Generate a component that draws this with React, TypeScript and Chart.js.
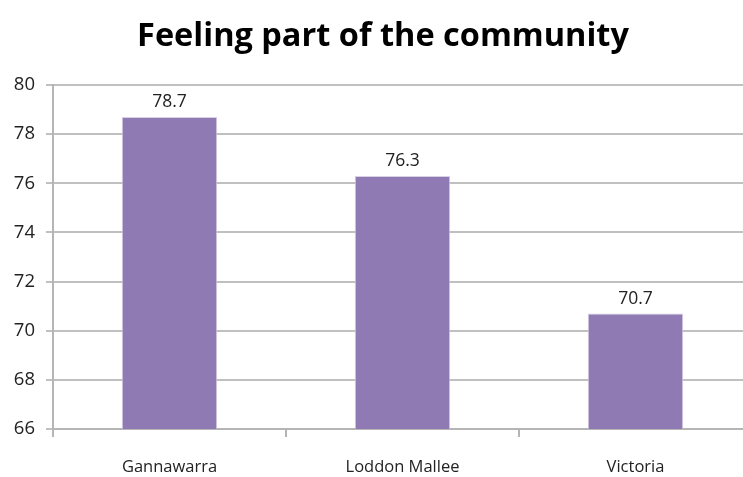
import React, { useEffect, useRef } from "react";
import { Chart, registerables } from "chart.js";

Chart.register(...registerables);

const categories = ["Gannawarra", "Loddon Mallee", "Victoria"];
const values = [78.7, 76.3, 70.7];
const yMin = 66;
const yMax = 80;
const yStep = 2;
const titleText = "Feeling part of the community";

const CANVAS_W = 760;
const CANVAS_H = 477;

export default function App() {
  const ref = useRef<HTMLCanvasElement | null>(null);

  useEffect(() => {
    if (!ref.current) return;
    const valueLabels = {
      id: "valueLabels",
      afterDatasetsDraw(chart: any) {
        const ctx = chart.ctx;
        const meta = chart.getDatasetMeta(0);
        ctx.save();
        ctx.font = "17.5px 'Open Sans', sans-serif";
        ctx.fillStyle = "#222";
        ctx.textAlign = "center";
        ctx.textBaseline = "bottom";
        meta.data.forEach((el: any, i: number) => {
          ctx.fillText(values[i].toFixed(1), el.x, el.y - 6);
        });
        ctx.restore();
      },
    };
    const titlePlugin = {
      id: "customTitle",
      afterDraw(chart: any) {
        const ctx = chart.ctx;
        ctx.save();
        ctx.font = "bold 32.5px 'Open Sans', sans-serif";
        ctx.fillStyle = "#000";
        ctx.textAlign = "center";
        ctx.textBaseline = "middle";
        ctx.fillText(titleText, 383, 37);
        ctx.restore();
      },
    };
    const chart = new Chart(ref.current, {
      type: "bar",
      data: {
        labels: categories,
        datasets: [
          {
            data: values,
            backgroundColor: "#8f7ab3",
            borderColor: "#d8d0e4",
            borderWidth: { left: 1, right: 1, top: 1, bottom: 0 } as any,
            barPercentage: 0.82,
            categoryPercentage: 0.5,
          },
        ],
      },
      options: {
        animation: false,
        responsive: false,
        maintainAspectRatio: false,
        layout: { padding: { top: 85, left: 0, right: CANVAS_W - 752, bottom: 0 } },
        plugins: {
          legend: { display: false },
          title: { display: false },
          tooltip: { enabled: false },
        },
        scales: {
          x: {
            offset: true,
            grid: {
              offset: true,
              drawOnChartArea: false,
              drawTicks: true,
              tickLength: 8,
              color: "#b5b5b5",
              lineWidth: 2,
            },
            border: { display: true, color: "#b5b5b5", width: 2 },
            ticks: {
              color: "#222",
              font: { family: "'Open Sans', sans-serif", size: 16.5 },
              padding: 20,
            },
            afterFit(scale: any) {
              scale.height = 48;
            },
          },
          y: {
            min: yMin,
            max: yMax,
            ticks: {
              stepSize: yStep,
              color: "#222",
              font: { family: "'Open Sans', sans-serif", size: 18.5 },
              padding: 11,
            },
            grid: {
              color: "#c0c0c0",
              lineWidth: 2,
              tickLength: 7,
            },
            border: { display: true, color: "#b5b5b5", width: 2 },
            afterFit(scale: any) {
              scale.width = 53;
            },
          },
        },
      },
      plugins: [valueLabels, titlePlugin],
    });
    return () => chart.destroy();
  }, []);

  return (
    <div
      style={{
        position: "fixed",
        left: 0,
        top: 0,
        width: 743,
        height: 477,
        overflow: "hidden",
        background: "#fff",
      }}
    >
      <canvas
        ref={ref}
        width={CANVAS_W}
        height={CANVAS_H}
        style={{ position: "absolute", left: 0, top: 0, width: CANVAS_W, height: CANVAS_H }}
      />
    </div>
  );
}
